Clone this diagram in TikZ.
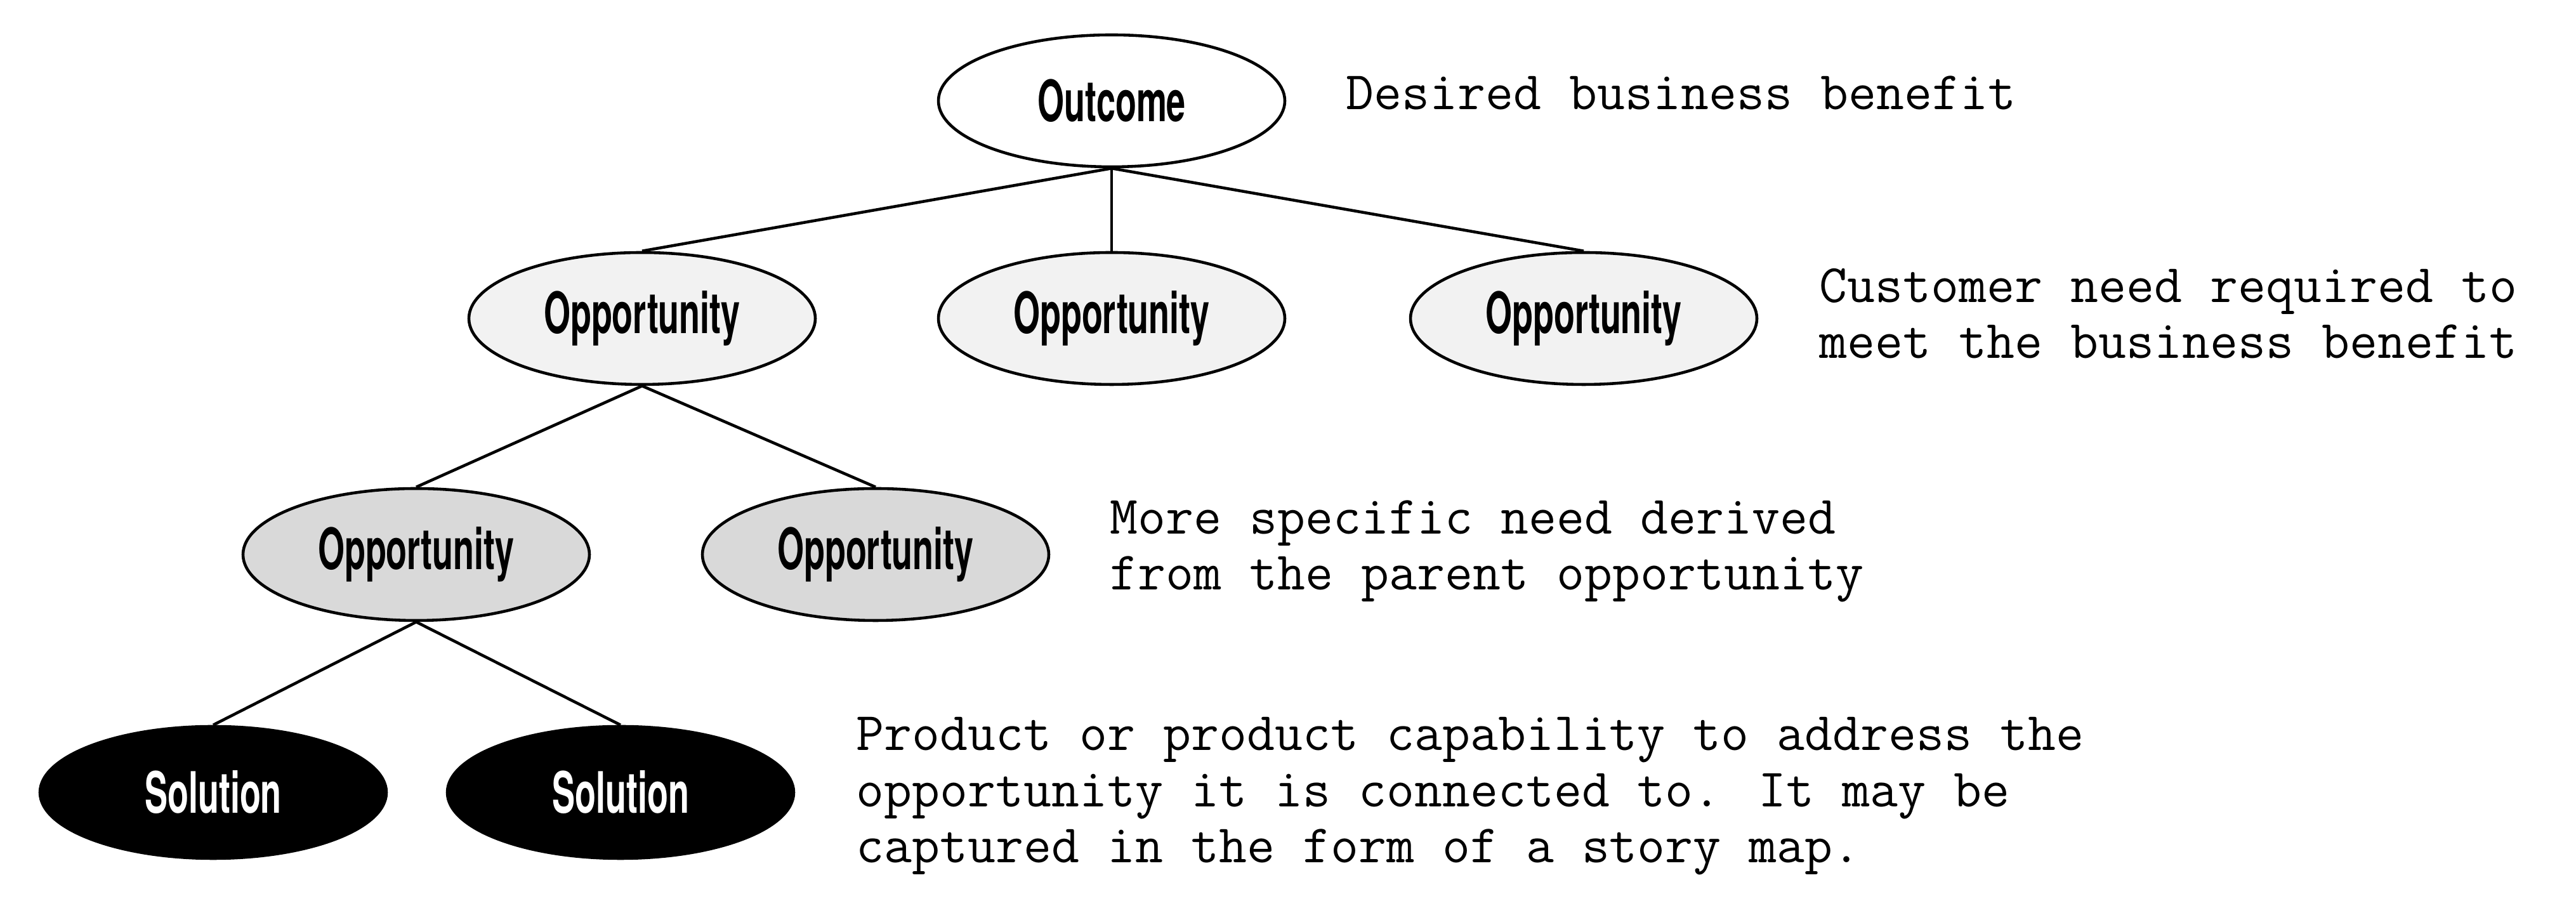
\documentclass[tikz,border=0pt]{standalone}
\usepackage{fontspec}
\setmainfont{TeX Gyre Heros}
\newfontfamily\bubblefont[FakeStretch=0.6]{TeX Gyre Heros}
\usetikzlibrary{shapes,positioning,calc}

\begin{document}
\begin{tikzpicture}[
  bubble/.style={draw, ellipse, line width=0.65pt, minimum width=2.73cm, minimum height=1.04cm, inner sep=0pt, font=\bubblefont\bfseries\fontsize{12.8}{14}\selectfont},
  note/.style={anchor=west, inner sep=0pt, align=left, font=\ttfamily\fontsize{12.15}{12.6}\selectfont},
  link/.style={line width=0.65pt}
]
\useasboundingbox (0,0) rectangle (20.3,7.195);

% Outcome
\node[bubble, fill=white] (outcome) at (8.76,6.40) {Outcome};

% Opportunities
\node[bubble, fill=black!5] (opp1) at (5.06,4.685) {Opportunity};
\node[bubble, fill=black!5] (opp2) at (8.76,4.685) {Opportunity};
\node[bubble, fill=black!5] (opp3) at (12.48,4.685) {Opportunity};

% Sub-opportunities
\node[bubble, fill=black!15] (sub1) at (3.28,2.825) {Opportunity};
\node[bubble, fill=black!15] (sub2) at (6.90,2.825) {Opportunity};

% Solutions
\node[bubble, fill=black, text=white] (sol1) at (1.68,0.95) {Solution};
\node[bubble, fill=black, text=white] (sol2) at (4.89,0.95) {Solution};

% Notes
\node[note] (noteoutcome) at (10.60,6.465) {Desired business benefit};
\node[note] (noteopp) at (14.33,4.725) {Customer need required to\\meet the business benefit};
\node[note] (notesub) at (8.74,2.85) {More specific need derived\\from the parent opportunity};
\node[note] (notesol) at (6.74,0.92) {Product or product capability to address the\\opportunity it is connected to. It may be\\captured in the form of a story map.};

% Links
\draw[link] (outcome.south) -- (opp1.north);
\draw[link] (outcome.south) -- (opp2.north);
\draw[link] (outcome.south) -- (opp3.north);
\draw[link] (opp1.south) -- (sub1.north);
\draw[link] (opp1.south) -- (sub2.north);
\draw[link] (sub1.south) -- (sol1.north);
\draw[link] (sub1.south) -- (sol2.north);
\end{tikzpicture}
\end{document}
